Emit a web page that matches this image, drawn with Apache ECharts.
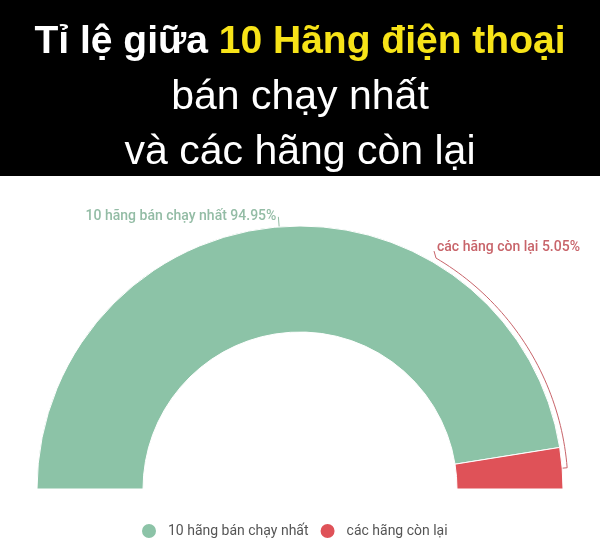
<!DOCTYPE html>
<html>
<head>
<meta charset="utf-8">
<script src="https://cdn.jsdelivr.net/npm/echarts@6/dist/echarts.min.js"></script>
<style>
  html, body { margin: 0; padding: 0; background: #fff; }
  #container { width: 600px; height: 557px; }
</style>
</head>
<body>
<div id="container"></div>
<script>
// data
var categories = ['10 hãng bán chạy nhất', 'các hãng còn lại'];
var shares = [94.95, 5.05];
var sliceColors = ['#8cc3a7', '#df5258'];
var labelColors = ['#93bca5', '#c8646a'];

var titleLines = ['Tỉ lệ giữa ', '10 Hãng điện thoại', 'bán chạy nhất', 'và các hãng còn lại'];

// half donut geometry
var CX = 300, CY = 489, R_IN = 157, R_OUT = 263;

var dom = document.getElementById('container');
var myChart = echarts.init(dom, null, { renderer: 'canvas' });

var pieData = categories.map(function (name, i) {
  return {
    name: name,
    value: shares[i],
    itemStyle: { color: sliceColors[i] },
    label: { color: labelColors[i] },
    labelLine: { lineStyle: { color: labelColors[i] } }
  };
});

// the small slice gets a leader that runs along the outside of the arc
function arcLeader(p) {
  if (p.dataIndex !== 1) return {};
  var total = shares[0] + shares[1];
  var mid = (shares[1] / total) * Math.PI / 2;
  var r = R_OUT + 5;
  var endA = 59.5 * Math.PI / 180;
  var pts = [[CX + R_OUT * Math.cos(mid), CY - R_OUT * Math.sin(mid)]];
  for (var a = mid; a < endA; a += 0.02) {
    pts.push([CX + r * Math.cos(a), CY - r * Math.sin(a)]);
  }
  var last = [CX + r * Math.cos(endA), CY - r * Math.sin(endA)];
  pts.push(last);
  pts.push([last[0] - 2, last[1] - 7]);
  return {
    x: last[0] + 1,
    y: last[1] - 11,
    align: 'left',
    verticalAlign: 'middle',
    labelLinePoints: pts
  };
}

var titleFont = 'Liberation Sans, Arial';

var option = {
  backgroundColor: '#fff',
  graphic: [
    { type: 'rect', left: 0, top: 0, shape: { width: 600, height: 176 }, style: { fill: '#000' }, silent: true }
  ],
  title: {
    left: 'center',
    top: 15,
    padding: 0,
    text: '{w|' + titleLines[0] + '}{y|' + titleLines[1] + '}\n{n|' + titleLines[2] + '}\n{n|' + titleLines[3] + '}',
    textStyle: {
      rich: {
        w: { fontFamily: titleFont, fontWeight: 'bold', fontSize: 39, color: '#ffffff', lineHeight: 55 },
        y: { fontFamily: titleFont, fontWeight: 'bold', fontSize: 39, color: '#f7e318', lineHeight: 55 },
        n: { fontFamily: titleFont, fontWeight: 'normal', fontSize: 41, color: '#ffffff', lineHeight: 55 }
      }
    }
  },
  legend: {
    bottom: 12,
    left: 135,
    icon: 'circle',
    itemWidth: 16,
    itemHeight: 16,
    itemGap: 10,
    textStyle: { fontFamily: 'Roboto', fontSize: 14, color: '#555', padding: [0, 0, 0, 6] },
    data: categories
  },
  series: [
    {
      type: 'pie',
      center: [CX, CY],
      radius: [R_IN, R_OUT],
      startAngle: 180,
      endAngle: 0,
      avoidLabelOverlap: false,
      animation: false,
      itemStyle: { borderColor: '#fff', borderWidth: 1 },
      label: {
        show: true,
        position: 'outside',
        fontFamily: 'Roboto',
        fontSize: 14,
        fontWeight: 500,
        overflow: 'none',
        distanceToLabelLine: 2,
        formatter: function (p) { return p.name + ' ' + p.value.toFixed(2) + '%'; }
      },
      labelLine: { show: true, length: 10, length2: 0, lineStyle: { width: 1 } },
      labelLayout: arcLeader,
      data: pieData
    }
  ]
};

myChart.setOption(option);
window.addEventListener('resize', myChart.resize);
</script>
</body>
</html>
